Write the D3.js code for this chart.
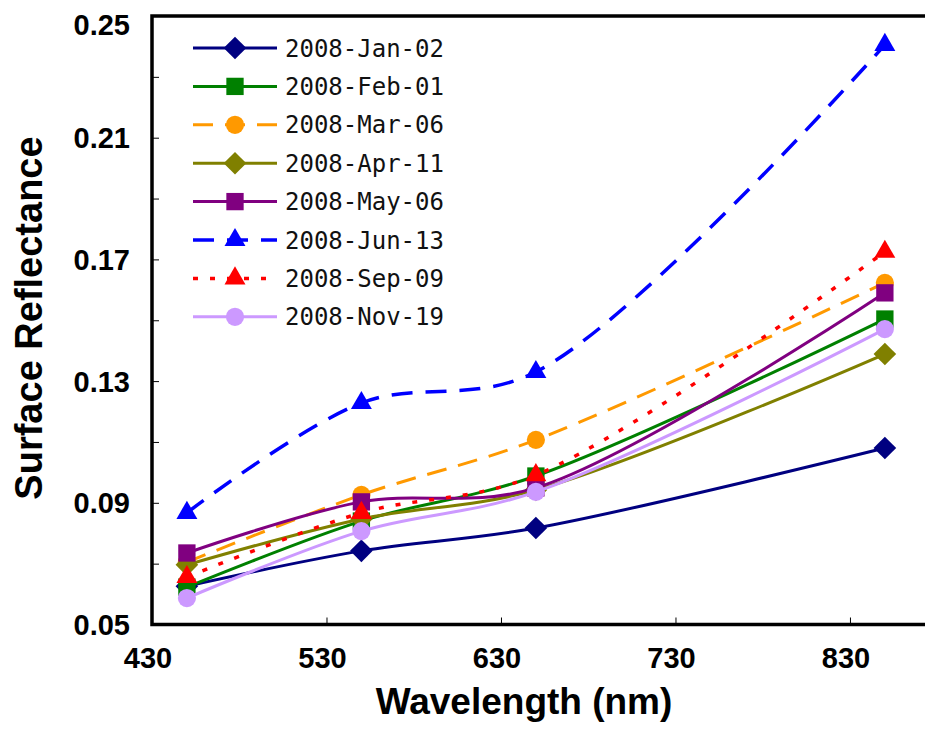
<!DOCTYPE html>
<html>
<head>
<meta charset="utf-8">
<script src="https://cdn.jsdelivr.net/npm/d3@7"></script>
<style>
  body { margin: 0; background: #fff; }
  svg { display: block; }
</style>
</head>
<body>
<svg id="canvas"></svg>
<script>
// wavelengths (nm) of the four bands
let wavelengths = [450, 550, 650, 850];

let dates = ['2008-Jan-02', '2008-Feb-01', '2008-Mar-06', '2008-Apr-11',
             '2008-May-06', '2008-Jun-13', '2008-Sep-09', '2008-Nov-19'];

let jan02 = [0.0626, 0.0742, 0.0817, 0.1080];
let feb01 = [0.0623, 0.0840, 0.0988, 0.1504];
let mar06 = [0.0705, 0.0926, 0.1107, 0.1623];
let apr11 = [0.0696, 0.0847, 0.0942, 0.1389];
let may06 = [0.0735, 0.0903, 0.0949, 0.1590];
let jun13 = [0.0867, 0.1228, 0.1330, 0.2405];
let sep09 = [0.0656, 0.0867, 0.0991, 0.1725];
let nov19 = [0.0587, 0.0807, 0.0936, 0.1471];

let yTicks = [0.05, 0.07, 0.09, 0.11, 0.13, 0.15, 0.17, 0.19, 0.21, 0.23, 0.25];
let yLabels = [0.05, 0.09, 0.13, 0.17, 0.21, 0.25];
let xTicks = [430, 530, 630, 730, 830];

let seriesValues = [jan02, feb01, mar06, apr11, may06, jun13, sep09, nov19];

// styles, one per series
let colors = ['#000080', '#008000', '#FF9900', '#808000', '#800080', '#0000FF', '#FF0000', '#CC99FF'];
let markers = ['diamond', 'square', 'circle', 'diamond', 'square', 'triangle', 'triangle', 'circle'];
let dashes = [null, null, '20,12', null, null, '21,13', '5,12', null];
let widths = [3, 3, 3, 3, 3, 3.5, 3.5, 3];

let width = 925;
let height = 731;
let plotLeft = 152, plotRight = 925, plotTop = 16, plotBottom = 624.5;

let canvas = d3.select('#canvas')
    .attr('width', width)
    .attr('height', height);

let xScale = d3.scaleLinear().domain([430, 873]).range([plotLeft, plotRight]);
let yScale = d3.scaleLinear().domain([0.05, 0.25]).range([plotBottom, plotTop]);

let markerPath = (type) => {
    if (type === 'diamond') return d3.symbol(d3.symbolSquare, 256)();
    if (type === 'square') return d3.symbol(d3.symbolSquare, 300)();
    if (type === 'circle') return d3.symbol(d3.symbolCircle, 260)();
    return d3.symbol(d3.symbolTriangle, 190)();
};

let drawMarker = (g, type, color, x, y) => {
    g.append('path')
        .attr('d', markerPath(type))
        .attr('fill', color)
        .attr('transform', `translate(${x},${y})` + (type === 'diamond' ? ' rotate(45)' : ''));
};

let drawAxes = () => {
    let yAxis = d3.axisLeft(yScale).tickValues(yTicks).tickSize(-7).tickFormat('');
    let xAxis = d3.axisBottom(xScale).tickValues(xTicks).tickSize(-7).tickFormat('');

    let gy = canvas.append('g').attr('transform', `translate(${plotLeft},0)`).call(yAxis);
    let gx = canvas.append('g').attr('transform', `translate(0,${plotBottom})`).call(xAxis);
    [gy, gx].forEach(g => {
        g.select('.domain').remove();
        g.selectAll('.tick line').attr('stroke', '#000').attr('stroke-width', 1);
    });

    // frame
    canvas.append('path')
        .attr('d', `M${plotRight},${plotTop}H${plotLeft}V${plotBottom}H${plotRight}`)
        .attr('fill', 'none')
        .attr('stroke', '#000')
        .attr('stroke-width', 3.5);

    canvas.selectAll('.ylab')
        .data(yLabels)
        .enter()
        .append('text')
        .attr('x', 130)
        .attr('y', d => Math.max(yScale(d), 25))
        .attr('dy', '0.36em')
        .attr('text-anchor', 'end')
        .style('font', 'bold 29px "Liberation Sans", Arial, sans-serif')
        .text(d => d.toFixed(2));

    canvas.selectAll('.xlab')
        .data(xTicks)
        .enter()
        .append('text')
        .attr('x', d => xScale(d) - 4)
        .attr('y', 668)
        .attr('text-anchor', 'middle')
        .style('font', 'bold 29px "Liberation Sans", Arial, sans-serif')
        .text(d => d);

    canvas.append('text')
        .attr('x', 524)
        .attr('y', 714)
        .attr('text-anchor', 'middle')
        .style('font', 'bold 37px "Liberation Sans", Arial, sans-serif')
        .text('Wavelength (nm)');

    canvas.append('text')
        .attr('transform', 'translate(42,318) rotate(-90)')
        .attr('text-anchor', 'middle')
        .style('font', 'bold 38px "Liberation Sans", Arial, sans-serif')
        .text('Surface Reflectance');
};

let drawSeries = () => {
    let line = d3.line()
        .x((d, i) => xScale(wavelengths[i]))
        .y(d => yScale(d))
        .curve(d3.curveCatmullRom.alpha(0.5));

    seriesValues.forEach((values, s) => {
        let g = canvas.append('g');
        g.append('path')
            .attr('d', line(values))
            .attr('fill', 'none')
            .attr('stroke', colors[s])
            .attr('stroke-width', widths[s])
            .attr('stroke-dasharray', dashes[s]);
        values.forEach((v, i) => drawMarker(g, markers[s], colors[s], xScale(wavelengths[i]), yScale(v)));
    });
};

let drawLegend = () => {
    let g = canvas.append('g');
    dates.forEach((d, s) => {
        let y = 48 + s * 38.4;
        g.append('line')
            .attr('x1', 193).attr('x2', 277)
            .attr('y1', y).attr('y2', y)
            .attr('stroke', colors[s])
            .attr('stroke-width', widths[s])
            .attr('stroke-dasharray', dashes[s]);
        drawMarker(g, markers[s], colors[s], 235, y);
        g.append('text')
            .attr('x', 285)
            .attr('y', y)
            .attr('dy', '0.36em')
            .style('font', '24px "DejaVu Sans Mono", monospace')
            .style('fill', '#111')
            .text(d);
    });
};

drawAxes();
drawSeries();
drawLegend();
</script>
</body>
</html>
